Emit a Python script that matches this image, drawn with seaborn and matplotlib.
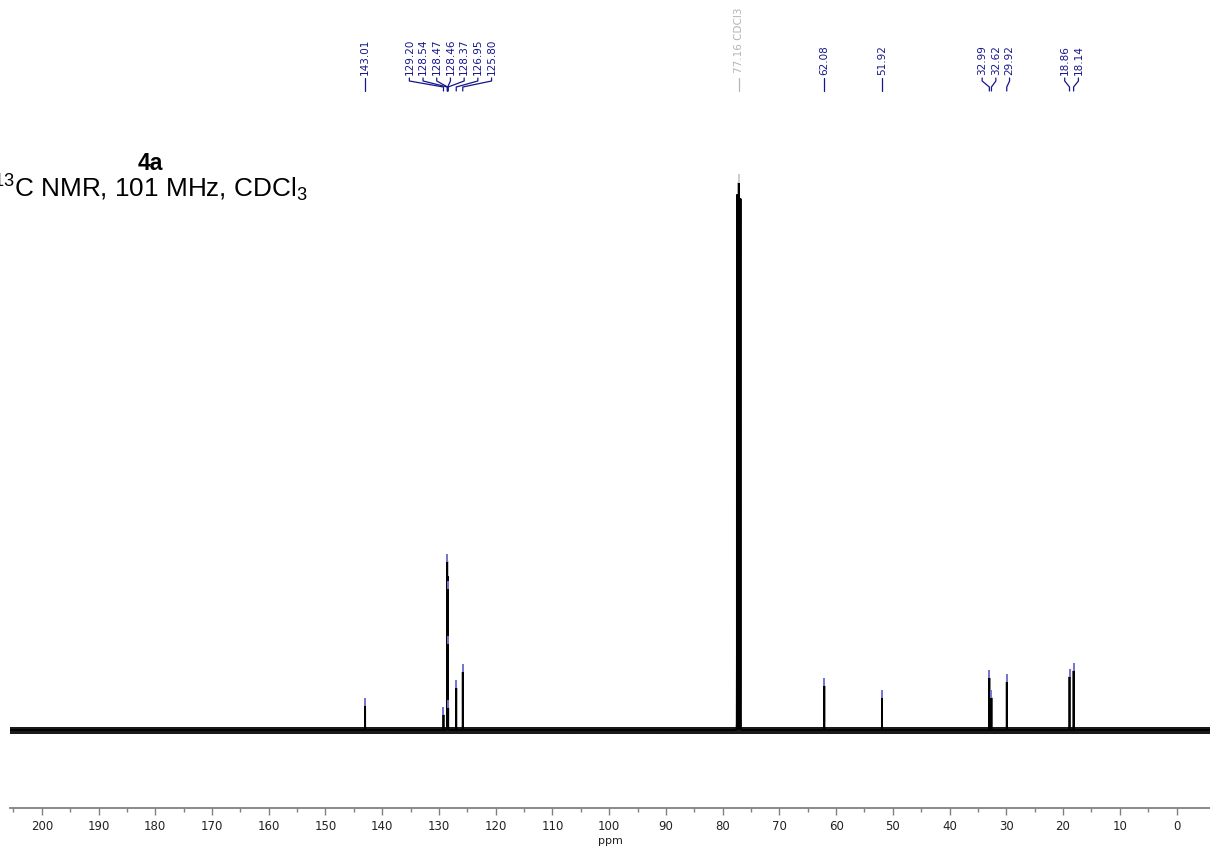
import numpy as np
import pandas as pd
import matplotlib
matplotlib.use("Agg")
import matplotlib.pyplot as plt
import seaborn as sns

# ---- peak list (ppm, intensity in arbitrary units) ----
peak_ppm = [143.01, 129.20, 128.54, 128.47, 128.46, 128.37, 126.95, 125.80,
            62.08, 51.92, 32.99, 32.62, 29.92, 18.86, 18.14]
peak_int = [24, 15, 168, 141, 86, 22, 42, 58,
            44, 32, 52, 32, 48, 53, 59]

# solvent triplet (CDCl3)
solvent_ppm = [77.48, 77.16, 76.84]
solvent_int = [535, 547, 531]
solvent_label = "77.16 CDCl3"

# groups of annotated peaks that share a bracket
label_groups = [[143.01],
                [129.20, 128.54, 128.47, 128.46, 128.37, 126.95, 125.80],
                [62.08], [51.92],
                [32.99, 32.62, 29.92],
                [18.86, 18.14]]

title_main = "4a"
title_sub = r"$^{13}$C NMR, 101 MHz, CDCl$_{3}$"
major_ticks = list(range(0, 201, 10))
minor_ticks = list(range(5, 206, 10))
x_label = "ppm"

# ---- styling ----
sns.set_theme(style="white")
plt.rcParams["font.family"] = ["DejaVu Sans"]
plt.rcParams["mathtext.fontset"] = "custom"
plt.rcParams["mathtext.rm"] = "Liberation Sans"
plt.rcParams["mathtext.it"] = "Liberation Sans:italic"
plt.rcParams["mathtext.bf"] = "Liberation Sans:bold"

W, H = 1210, 852
fig = plt.figure(figsize=(W / 100, H / 100), dpi=100)
ax = fig.add_axes([10 / W, (H - 808) / H, 1200 / W, 808 / H])
XL, XR = 205.6, -5.9
YB, YT = -78, 730

# ---- spectrum from Lorentzian lines ----
hw = 0.004
all_ppm = np.array(peak_ppm + solvent_ppm)
all_int = np.array(peak_int + solvent_int, dtype=float)
grid = np.arange(XR, XL, 0.002)
x = np.unique(np.concatenate([grid, all_ppm]))
y = np.zeros_like(x)
for p, h in zip(all_ppm, all_int):
    y += h / (1.0 + ((x - p) / hw) ** 2)
spec = pd.DataFrame({"ppm": x, "intensity": y})

# noise floor band
ax.fill_between([XL, XR], -3.5, 3, color="#1a1a1a", lw=0, zorder=2)
sns.lineplot(data=spec, x="ppm", y="intensity", color="black", lw=1.3,
             estimator=None, sort=False, ax=ax, zorder=3)

# peak-pick markers above each peak top
ax.vlines(peak_ppm, np.array(peak_int) + 0, np.array(peak_int) + 8,
          color="#7474d0", lw=1.4, zorder=4)
ax.vlines([solvent_ppm[1]], solvent_int[1], solvent_int[1] + 9,
          color="#cccccc", lw=1.4, zorder=4)

# ---- peak labels with leaders ----
px_per_ppm = 1200 / (XL - XR)
spacing = 13.7 / px_per_ppm
lab_col = "#16168c"
y_txt = YT - 75
y_a, y_b, y_c, y_d = YT - 78, YT - 81, YT - 87, YT - 91
for grp in label_groups:
    n = len(grp)
    center = np.mean(grp)
    for i, p in enumerate(grp):
        lx = center + spacing * ((n - 1) / 2 - i) if n > 1 else p
        ax.text(lx, y_txt, f"{p:.2f}", rotation=90, ha="center", va="bottom",
                fontsize=7.5, color=lab_col, zorder=5)
        ax.plot([lx, lx, p, p], [y_a, y_b, y_c, y_d], color=lab_col, lw=0.9,
                zorder=5, clip_on=False)

ax.text(solvent_ppm[1], y_txt + 2, solvent_label, rotation=90, ha="center",
        va="bottom", fontsize=7.5, color="#b4b4b4", zorder=5)
ax.plot([solvent_ppm[1]] * 2, [y_a, y_d], color="#b4b4b4", lw=0.9, zorder=5)

# ---- axes ----
ax.set_xlim(XL, XR)
ax.set_ylim(YB, YT)
ax.set_xticks(major_ticks)
ax.set_xticks(minor_ticks, minor=True)
ax.set_xticklabels([str(t) for t in major_ticks])
ax.set_yticks([])
ax.set_ylabel("")
ax.set_xlabel(x_label, fontsize=8, color="#222222", labelpad=2)
for s in ["top", "left", "right"]:
    ax.spines[s].set_visible(False)
ax.spines["bottom"].set_color("#808080")
ax.spines["bottom"].set_linewidth(1.3)
ax.tick_params(axis="x", which="major", direction="out", length=5, width=1,
               color="#808080", labelsize=8.5, labelcolor="#222222", pad=4,
               bottom=True)
ax.tick_params(axis="x", which="minor", direction="out", length=3, width=1,
               color="#808080", bottom=True)
ax.patch.set_alpha(0)

# ---- title block ----
fig.text(150 / W, 1 - 170 / H, title_main, ha="center", va="baseline",
         fontsize=16.5, fontweight="bold", family="Liberation Sans",
         color="black")
fig.text(150 / W, 1 - 197 / H, title_sub, ha="center", va="baseline",
         fontsize=18.8, family="Liberation Sans", color="black")

fig.savefig("out.png", dpi=100)
